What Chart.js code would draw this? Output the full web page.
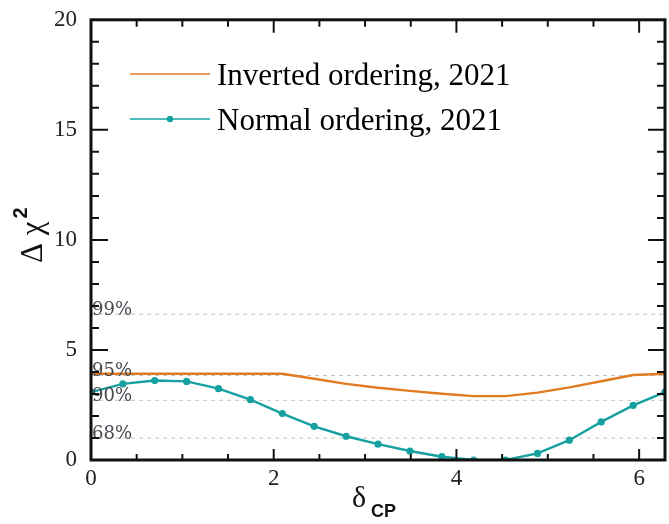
<!DOCTYPE html>
<html>
<head>
<meta charset="utf-8">
<script src="https://cdn.jsdelivr.net/npm/chart.js@4"></script>
<style>
  html, body { margin: 0; padding: 0; background: #fff; }
  #wrap { width: 669px; height: 524px; }
</style>
</head>
<body>
<div id="wrap"><canvas id="chart" width="669" height="524"></canvas></div>
<script>
// delta_CP scan points (radians)
const deltaCP = [0, 0.349, 0.698, 1.047, 1.396, 1.745, 2.094, 2.443, 2.793, 3.142,
  3.491, 3.840, 4.189, 4.538, 4.887, 5.236, 5.585, 5.934, 6.283];

// Delta chi^2 for each mass ordering
const invertedChi2 = [3.92, 3.92, 3.92, 3.92, 3.92, 3.92, 3.92, 3.69, 3.46, 3.28,
  3.14, 3.01, 2.90, 2.90, 3.06, 3.30, 3.58, 3.86, 3.92];
const normalChi2 = [3.08, 3.46, 3.61, 3.57, 3.24, 2.74, 2.11, 1.53, 1.08, 0.72,
  0.41, 0.15, 0.00, 0.00, 0.30, 0.90, 1.73, 2.48, 3.08];

const seriesLabels = ['Inverted ordering, 2021', 'Normal ordering, 2021'];

// confidence levels (1 dof)
const clValues = [1.0, 2.71, 3.84, 6.63];
const clLabels = ['68%', '90%', '95%', '99%'];

// axis ticks: x every 0.5 (labelled every 2), y every 1 (labelled every 5)
const xTicks = [0, 0.5, 1, 1.5, 2, 2.5, 3, 3.5, 4, 4.5, 5, 5.5, 6];
const xMax = 6.283;
const yMax = 20;

const orange = '#e07b22';
const teal = '#17a0a0';

const toPoints = ys => deltaCP.map((x, i) => ({ x: x, y: ys[i] }));

const clSets = clValues.map(v => ({
  label: 'cl',
  data: [{ x: 0, y: v }, { x: xMax, y: v }],
  borderColor: '#c4c4c4',
  borderWidth: 1,
  borderDash: [4, 4],
  pointRadius: 0,
  order: 5
}));

// frame, inward ticks, text labels
const decor = {
  id: 'decor',
  afterDraw(chart) {
    const ctx = chart.ctx;
    const a = chart.chartArea;
    const xs = chart.scales.x, ys = chart.scales.y;
    ctx.save();

    // confidence level labels
    ctx.font = '18px "DejaVu Serif"';
    ctx.fillStyle = '#45484f';
    ctx.textBaseline = 'alphabetic';
    ctx.textAlign = 'left';
    clValues.forEach((v, i) => {
      ctx.fillText(clLabels[i], a.left + 1, ys.getPixelForValue(v) + 1);
    });

    // frame
    ctx.strokeStyle = '#111';
    ctx.lineWidth = 3;
    ctx.strokeRect(a.left, a.top, a.right - a.left, a.bottom - a.top);

    // ticks
    ctx.lineWidth = 2;
    ctx.beginPath();
    xs.ticks.forEach(t => {
      const px = xs.getPixelForValue(t.value);
      const major = t.value % 2 === 0;
      const lb = major ? 11 : 6, lt = major ? 13 : 7;
      ctx.moveTo(px, a.bottom); ctx.lineTo(px, a.bottom - lb);
      ctx.moveTo(px, a.top); ctx.lineTo(px, a.top + lt);
    });
    ys.ticks.forEach(t => {
      if (t.value <= 0 || t.value >= yMax) return;
      const py = ys.getPixelForValue(t.value);
      const len = t.value % 5 === 0 ? 17 : 8;
      ctx.moveTo(a.left, py); ctx.lineTo(a.left + len, py);
      ctx.moveTo(a.right, py); ctx.lineTo(a.right - len, py);
    });
    ctx.stroke();

    // legend
    const rows = [
      { color: '#ec9a58', dot: false, y: 74, base: 85 },
      { color: '#4cbcbc', dot: true, y: 119, base: 130 }
    ];
    rows.forEach((r, i) => {
      ctx.strokeStyle = r.color;
      ctx.lineWidth = 2.2;
      ctx.beginPath();
      ctx.moveTo(130, r.y); ctx.lineTo(210, r.y);
      ctx.stroke();
      if (r.dot) {
        ctx.fillStyle = teal;
        ctx.beginPath();
        ctx.arc(170, r.y, 3.2, 0, Math.PI * 2);
        ctx.fill();
      }
      ctx.fillStyle = '#000';
      ctx.font = '31px "Liberation Serif"';
      ctx.fillText(seriesLabels[i], 217, r.base);
    });

    // y title: Delta chi^2
    ctx.save();
    ctx.translate(42, 263);
    ctx.rotate(-Math.PI / 2);
    ctx.fillStyle = '#111';
    ctx.font = '31px "Liberation Serif"';
    ctx.fillText('\u0394 \u03c7', 0, 0);
    const w = ctx.measureText('\u0394 \u03c7').width;
    ctx.font = 'bold 20px "Liberation Sans"';
    ctx.fillText('2', w + 3, -15);
    ctx.restore();

    // x title: delta_CP
    ctx.fillStyle = '#111';
    ctx.font = '30px "Liberation Serif"';
    ctx.fillText('\u03b4', 352, 507);
    ctx.font = 'bold 18px "Liberation Sans"';
    ctx.fillText('CP', 371, 517);

    ctx.restore();
  }
};

new Chart(document.getElementById('chart'), {
  type: 'line',
  data: {
    datasets: [
      {
        label: seriesLabels[0],
        data: toPoints(invertedChi2),
        borderColor: orange,
        borderWidth: 2.4,
        pointRadius: 0,
        tension: 0,
        order: 2
      },
      {
        label: seriesLabels[1],
        data: toPoints(normalChi2),
        borderColor: teal,
        backgroundColor: teal,
        borderWidth: 2.4,
        pointRadius: 3.6,
        pointBackgroundColor: teal,
        pointBorderWidth: 0,
        tension: 0,
        order: 1
      },
      ...clSets
    ]
  },
  options: {
    responsive: false,
    animation: false,
    devicePixelRatio: 1,
    layout: { padding: { top: 17, right: 2, left: 0, bottom: 0 } },
    plugins: {
      legend: { display: false },
      tooltip: { enabled: false }
    },
    scales: {
      x: {
        type: 'linear',
        min: 0,
        max: xMax,
        grid: { display: false },
        border: { display: false },
        afterBuildTicks: s => { s.ticks = xTicks.map(v => ({ value: v })); },
        ticks: {
          autoSkip: false,
          maxRotation: 0,
          padding: -3,
          color: '#222',
          font: { family: 'Liberation Serif', size: 23 },
          callback: v => (v % 2 === 0 ? String(v) : '')
        },
        afterFit: s => { s.height = 64; }
      },
      y: {
        min: 0,
        max: yMax,
        grid: { display: false },
        border: { display: false },
        ticks: {
          stepSize: 1,
          autoSkip: false,
          padding: 6,
          color: '#222',
          font: { family: 'Liberation Serif', size: 23 },
          callback: v => (v % 5 === 0 ? String(v) : '')
        },
        afterFit: s => { s.width = 91; }
      }
    }
  },
  plugins: [decor]
});
</script>
</body>
</html>
